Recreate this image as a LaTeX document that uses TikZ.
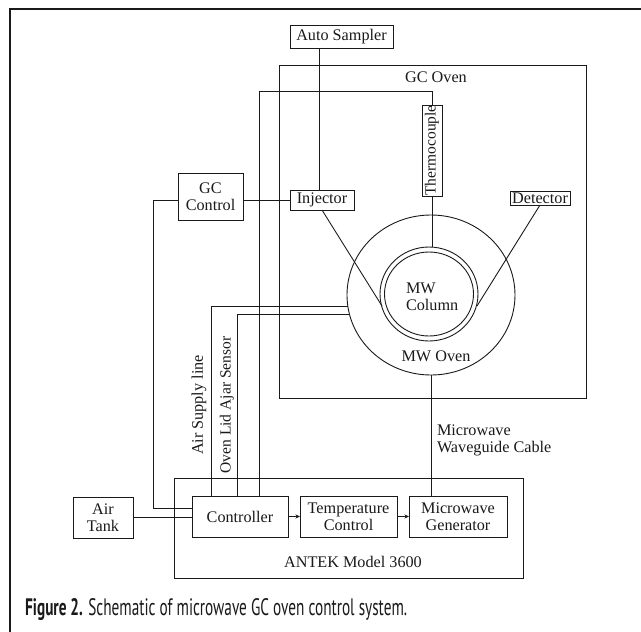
\documentclass[tikz,border=0pt]{standalone}
\usepackage{fontspec}
\setmainfont{Liberation Serif}
\newfontfamily\capfont{PT Sans}
\usetikzlibrary{shapes.geometric,arrows.meta}
\definecolor{ink}{HTML}{1A1A1A}
\newcommand\dfont{\fontsize{16.2}{17}\selectfont}
\newcommand\sfont{\fontsize{15.5}{17}\selectfont}
\begin{document}
\begin{tikzpicture}[x=1pt,y=-1pt,
  box/.style={draw=ink, line width=0.9pt, inner sep=0pt, outer sep=0pt, font=\dfont, align=center, text=ink},
  wire/.style={draw=ink, line width=0.9pt},
  arr/.style={wire, -{Stealth[length=4.5pt,width=4pt]}},
  lbl/.style={font=\dfont, inner sep=0pt, outer sep=0pt, text=ink},
  circ/.style={draw=ink, line width=0.9pt, ellipse, inner sep=0pt, outer sep=0pt},
  framestyle/.style={draw=ink, line width=1.6pt}]
\useasboundingbox (0,0) rectangle (641,632);
\fill[white] (0,0) rectangle (641,632);
\draw[framestyle] (641,9) -- (10,9) -- (10,632);

% GC oven
\node[box, minimum width=307, minimum height=333] (gcoven) at (432.5,231.5) {};
\node[lbl] (gcl) at (436,77) {GC Oven};

% boxes
\node[box, minimum width=103, minimum height=23] (auto) at (341.5,36.5) {Auto Sampler};
\node[box, font=\sfont, rotate=90, minimum width=91, minimum height=20] (thermo) at (432,150.5) {Thermocouple};
\node[box, minimum width=64, minimum height=20] (inj) at (322,200) {Injector};
\node[box, minimum width=60, minimum height=14] (det) at (540,198) {Detector};
\node[box, minimum width=65, minimum height=47] (gcc) at (210.5,196.5) {GC\\Control};

% MW oven and column
\node[circ, minimum width=168, minimum height=160] (mwoven) at (431,295) {};
\node[circ, minimum width=98, minimum height=94] (col1) at (429,294) {};
\node[circ, minimum width=89, minimum height=84] (col2) at (429,294) {};
\node[lbl, align=left, anchor=west] (mwc) at (406,297) {MW\\Column};
\node[lbl] (mwo) at (436,356) {MW Oven};

% ANTEK unit
\node[box, minimum width=349, minimum height=100] (antek) at (348.5,528) {};
\node[lbl] (antekl) at (353,562) {ANTEK Model 3600};
\node[box, minimum width=96, minimum height=41] (ctrl) at (240,516.5) {Controller};
\node[box, minimum width=97, minimum height=41] (temp) at (348.5,516.5) {Temperature\\Control};
\node[box, minimum width=98, minimum height=41] (gen) at (458,516.5) {Microwave\\Generator};
\node[box, minimum width=60, minimum height=41] (tank) at (103,517.5) {Air\\Tank};

% coordinates on MW oven border
\coordinate (asup) at (347.8,306);
\coordinate (olid) at (349.4,314);
\coordinate (cinj) at (382,306);
\coordinate (cdet) at (477,306);

% connectors
\draw[wire] ([xshift=-22.5pt]auto.south) -- ([xshift=-3pt]inj.north);
\draw[wire] (thermo.east) -- ++(0,-14) -| ([xshift=19pt]ctrl.north);
\draw[wire] (gcc.east |- inj.west) -- (inj.west);
\draw[wire] (gcc.west |- inj.west) -- ++(-25,0) |- ([yshift=8.5pt]ctrl.west);
\draw[wire] (tank.east) -- (tank.east -| ctrl.west);
\draw[wire] ([xshift=-29pt]ctrl.north) |- (asup);
\draw[wire] ([xshift=-3pt]ctrl.north) |- (olid);
\draw[wire] (inj.south) -- (cinj);
\draw[wire] (det.south) -- (cdet);
\draw[wire] (thermo.west) -- (thermo.west |- col1.north);
\draw[wire] (mwoven.south) -- (mwoven.south |- gen.north);
\draw[arr] (ctrl.east) -- (temp.west);
\draw[arr] (temp.east) -- (gen.west);

% labels
\node[lbl, align=left, anchor=west] (wgl) at (437,440) {Microwave\\Waveguide Cable};
\node[lbl, rotate=90] (asl) at (199,405) {Air Supply line};
\node[lbl, font=\sfont, rotate=90] (oll) at (227,405) {Oven Lid Ajar Sensor};

% caption
\node[anchor=base west, inner sep=0pt, text=ink] (cap) at (25,615)
  {\resizebox{382pt}{17pt}{\fontsize{21}{21}\capfont{\bfseries Figure 2.} Schematic of microwave GC oven control system.}};
\end{tikzpicture}
\end{document}
